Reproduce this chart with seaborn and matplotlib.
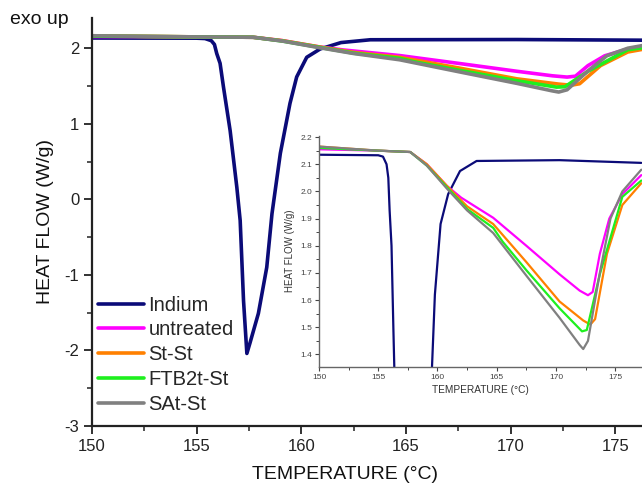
"""
DSC thermograms: indium reference and treated samples, with zoomed inset.
"""

import matplotlib.pyplot as plt
import matplotlib.ticker as mticker
import pandas as pd
import seaborn as sns

# Temperature (deg C) / heat flow (W/g)
indium_t = [150, 155.0, 155.4, 155.7, 155.85, 155.96, 156.12, 156.28, 156.6,
            156.92, 157.08, 157.24, 157.4, 157.55, 157.95, 158.35, 158.6,
            159.0, 159.46, 159.78, 160.26, 160.9, 161.9, 163.3, 170.3, 177.2]
indium_hf = [2.135, 2.133, 2.128, 2.10, 2.05, 1.93, 1.80, 1.49, 0.91,
             0.16, -0.28, -1.34, -2.04, -1.90, -1.51, -0.90, -0.19,
             0.61, 1.27, 1.62, 1.88, 1.99, 2.075, 2.112, 2.115, 2.105]

untreated_t = [150, 155, 157.7, 159.1, 160.8, 162.0, 164.7, 167.5, 170.3,
               172.0, 172.7, 173.1, 173.7, 174.5, 175.6, 177.2]
untreated_hf = [2.155, 2.15, 2.145, 2.10, 2.02, 1.977, 1.903, 1.80, 1.695,
                1.635, 1.618, 1.63, 1.77, 1.90, 1.99, 2.06]

stst_t = [150, 155, 157.7, 159.1, 160.8, 162.5, 164.7, 167.5, 170.3,
          172.3, 172.9, 173.3, 174.3, 175.6, 177.2]
stst_hf = [2.165, 2.15, 2.145, 2.10, 2.02, 1.945, 1.88, 1.74, 1.595,
           1.525, 1.51, 1.53, 1.77, 1.95, 2.03]

ftb_t = [150, 155, 157.7, 159.1, 160.8, 162.5, 164.7, 165.5, 167.5, 170.3,
         172.2, 172.6, 173.7, 175.6, 177.2]
ftb_hf = [2.16, 2.15, 2.145, 2.095, 2.015, 1.935, 1.866, 1.815, 1.71, 1.57,
          1.485, 1.49, 1.695, 1.98, 2.04]

sat_t = [150, 155, 157.7, 159.1, 160.8, 162.5, 164.7, 167.5, 170.3,
         172.0, 172.3, 172.7, 173.7, 174.6, 175.6, 177.2]
sat_hf = [2.165, 2.15, 2.145, 2.095, 2.01, 1.93, 1.847, 1.69, 1.535,
          1.435, 1.42, 1.45, 1.70, 1.90, 2.0, 2.08]

names = ["Indium", "untreated", "St-St", "FTB2t-St", "SAt-St"]
colors = ["#0b0b78", "#ff00ff", "#ff8000", "#1ef01e", "#808080"]

series = [(indium_t, indium_hf), (untreated_t, untreated_hf),
          (stst_t, stst_hf), (ftb_t, ftb_hf), (sat_t, sat_hf)]

frames = []
for name, (t, hf) in zip(names, series):
    frames.append(pd.DataFrame({"T": t, "HF": hf, "sample": name}))
data = pd.concat(frames, ignore_index=True)
palette = dict(zip(names, colors))

sns.set_theme(style="ticks")
plt.rcParams["font.family"] = ["Liberation Sans", "DejaVu Sans"]
plt.rcParams["axes.unicode_minus"] = False

fig = plt.figure(figsize=(6.42, 4.86), dpi=100)
ax = fig.add_axes([92 / 642, 60 / 486, 550 / 642, 408 / 486])

sns.lineplot(data=data, x="T", y="HF", hue="sample", palette=palette,
             hue_order=names, linewidth=2.6, estimator=None, sort=False, ax=ax)

ax.set_xlim(150, 176.28)
ax.set_ylim(-3, 2.4)
ax.set_xticks([150, 155, 160, 165, 170, 175])
ax.set_yticks([-3, -2, -1, 0, 1, 2])
ax.xaxis.set_minor_locator(mticker.AutoMinorLocator(2))
ax.yaxis.set_minor_locator(mticker.AutoMinorLocator(2))
ax.tick_params(which="major", length=6, width=1.3, labelsize=12,
               colors="#222222", pad=3)
ax.tick_params(which="minor", length=3.5, width=1.1, colors="#222222")
for side in ["top", "right"]:
    ax.spines[side].set_visible(False)
for side in ["left", "bottom"]:
    ax.spines[side].set_linewidth(1.6)
    ax.spines[side].set_color("#222222")

ax.set_xlabel("TEMPERATURE (°C)", fontsize=14, color="#111111")
ax.xaxis.set_label_coords(0.46, -0.12)
ax.xaxis.label.set_va("center")
ax.set_ylabel("HEAT FLOW (W/g)", fontsize=14, color="#111111", labelpad=8)

handles, labels = ax.get_legend_handles_labels()
ax.legend(handles, labels, loc="upper left", bbox_to_anchor=(-0.002, 0.337),
          frameon=False, fontsize=14.5, handlelength=2.3, handletextpad=0.2,
          labelspacing=0.29, borderaxespad=0.0, borderpad=0.35)

fig.text(10 / 642, 1 - 20 / 486, "exo up", fontsize=14, va="center",
         color="#111111")

# zoomed inset
axin = fig.add_axes([319 / 642, (486 - 366.7) / 486, 323 / 642, 231 / 486])
axin.set_facecolor("white")
sns.lineplot(data=data, x="T", y="HF", hue="sample", palette=palette,
             hue_order=names, linewidth=1.6, estimator=None, sort=False,
             legend=False, ax=axin)
axin.set_xlim(150, 177.26)
axin.set_ylim(1.355, 2.205)
axin.set_xticks([150, 155, 160, 165, 170, 175])
axin.set_yticks([1.4, 1.5, 1.6, 1.7, 1.8, 1.9, 2.0, 2.1, 2.2])
axin.yaxis.set_major_formatter(mticker.FormatStrFormatter("%.1f"))
axin.xaxis.set_minor_locator(mticker.AutoMinorLocator(2))
axin.yaxis.set_minor_locator(mticker.AutoMinorLocator(2))
axin.tick_params(which="major", length=3, width=0.8, labelsize=6,
                 colors="#444444", pad=2)
axin.tick_params(which="minor", length=2, width=0.7, colors="#444444")
for side in ["top", "right"]:
    axin.spines[side].set_visible(False)
for side in ["left", "bottom"]:
    axin.spines[side].set_linewidth(1.0)
    axin.spines[side].set_color("#666666")
axin.set_xlabel("TEMPERATURE (°C)", fontsize=7.3, color="#333333", labelpad=3)
axin.set_ylabel("HEAT FLOW (W/g)", fontsize=7, color="#333333", labelpad=4)

fig.savefig("out.png", dpi=100)
